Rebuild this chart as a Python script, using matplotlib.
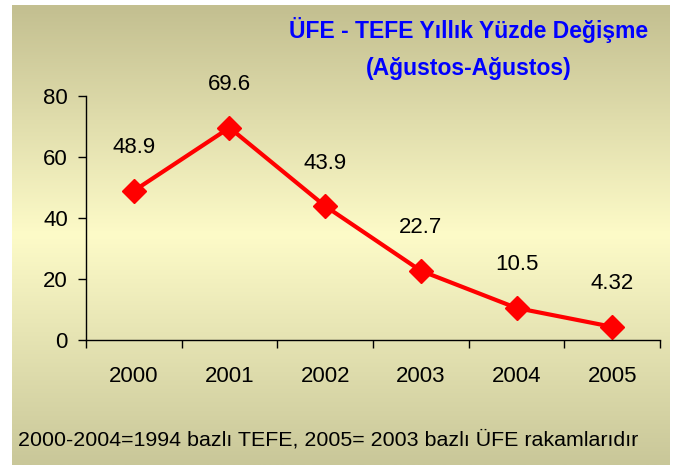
import numpy as np
import matplotlib
matplotlib.use("Agg")
import matplotlib.pyplot as plt
from matplotlib.colors import LinearSegmentedColormap

plt.rcParams['font.family'] = ['Liberation Sans', 'DejaVu Sans']

years = ['2000', '2001', '2002', '2003', '2004', '2005']
change = [48.9, 69.6, 43.9, 22.7, 10.5, 4.32]
value_labels = ['48.9', '69.6', '43.9', '22.7', '10.5', '4.32']
y_ticks = [0, 20, 40, 60, 80]

title_line1 = 'ÜFE - TEFE Yıllık Yüzde Değişme'
title_line2 = '(Ağustos-Ağustos)'
note_text = '2000-2004=1994 bazlı TEFE, 2005= 2003 bazlı ÜFE rakamlarıdır'

fig = plt.figure(figsize=(6.75, 4.68), dpi=100)

# background panel with vertical gradient (dark edges, pale centre)
bg = fig.add_axes([12 / 675, 3 / 468, 658 / 675, 460 / 468], zorder=0)
cmap = LinearSegmentedColormap.from_list('bg', ['#c3bf90', '#fdfbc8', '#c9c799'])
grad = np.linspace(0, 1, 256).reshape(-1, 1)
bg.imshow(grad, aspect='auto', cmap=cmap, extent=[0, 1, 0, 1], origin='upper')
bg.set_axis_off()

ax = fig.add_axes([86 / 675, 128 / 468, 574 / 675, 244 / 468], zorder=1)
ax.patch.set_alpha(0)

x = np.arange(len(years))
ax.plot(x, change, color='#ff0000', linewidth=3, marker='D', markersize=12,
        markerfacecolor='#ff0000', markeredgecolor='#ff0000', clip_on=False)

for xi, yi, lab in zip(x, change, value_labels):
    ax.annotate(lab, (xi, yi), xytext=(0, 31), textcoords='offset points',
                ha='center', va='center', fontsize=16, color='black')

ax.set_xlim(-0.5, len(years) - 0.5)
ax.set_ylim(0, 80)
ax.set_yticks(y_ticks)
ax.set_xticks(x)
ax.set_xticklabels(years)
ax.set_xticks(np.arange(len(years) + 1) - 0.5, minor=True)
ax.tick_params(axis='x', which='major', length=0, pad=19, labelsize=16)
ax.tick_params(axis='x', which='minor', length=6, direction='out', width=1)
ax.tick_params(axis='y', length=6, direction='out', pad=7, labelsize=16, width=1)

for side in ['top', 'right']:
    ax.spines[side].set_visible(False)
for side in ['left', 'bottom']:
    ax.spines[side].set_linewidth(1)
    ax.spines[side].set_color('black')

fig.text(469 / 675, 1 - 30 / 468, title_line1, ha='center', va='center',
         fontsize=16.5, fontweight='bold', color='#0000ff', zorder=3)
fig.text(469 / 675, 1 - 69 / 468, title_line2, ha='center', va='center',
         fontsize=16.5, fontweight='bold', color='#0000ff', zorder=3)
fig.text(18 / 675, 1 - 440 / 468, note_text, ha='left', va='center',
         fontsize=15.4, color='black', zorder=3)

fig.savefig('out.png', dpi=100)
